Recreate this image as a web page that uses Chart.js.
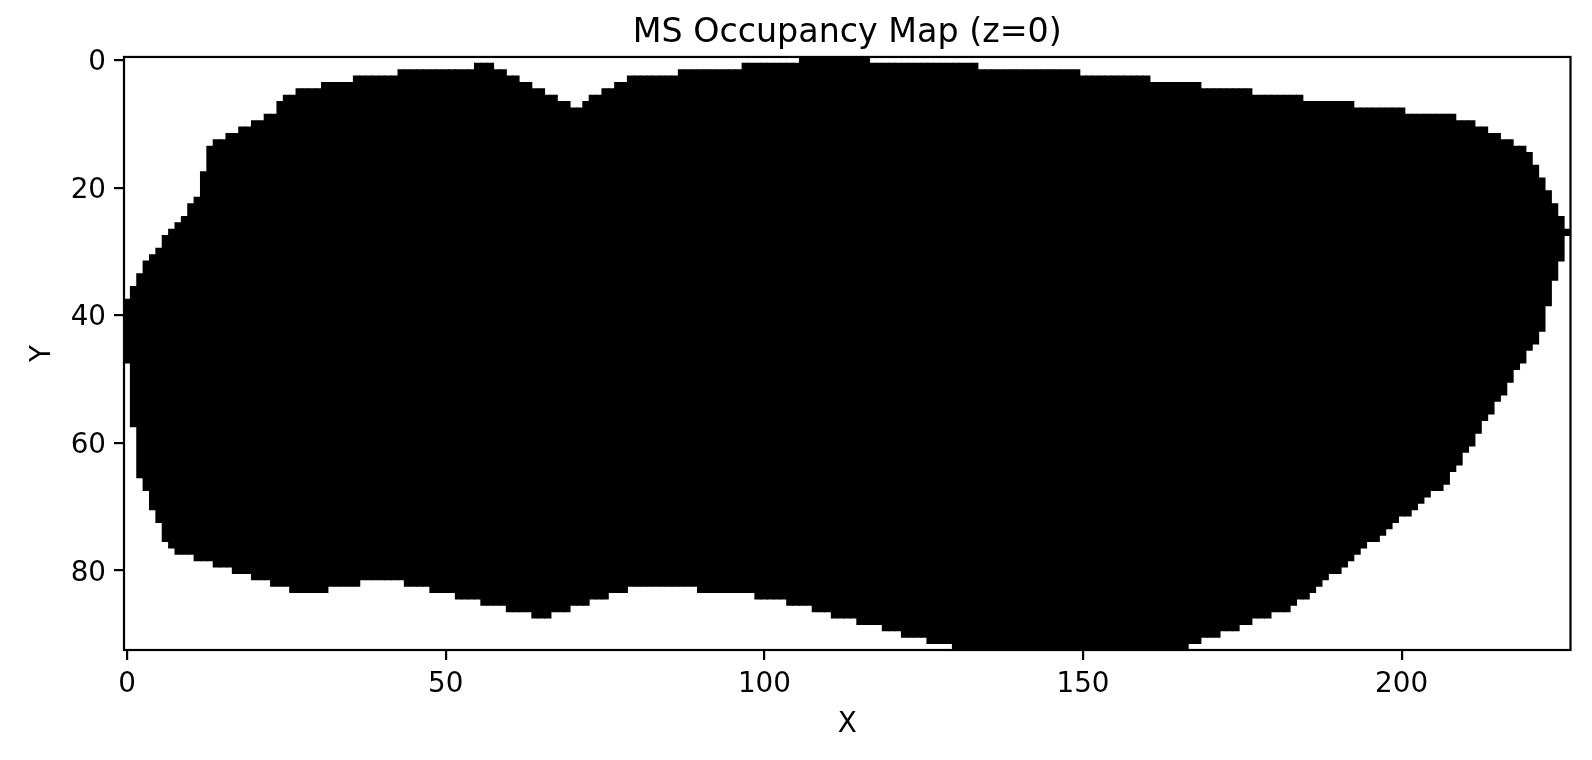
<!DOCTYPE html>
<html>
<head>
<meta charset="utf-8">
<title>MS Occupancy Map</title>
<script src="https://cdn.jsdelivr.net/npm/chart.js@4"></script>
<style>
  html, body { margin: 0; padding: 0; background: #fff; }
  canvas { display: block; }
</style>
</head>
<body>
<canvas id="occupancy" width="1592" height="760"></canvas>
<script>
// first occupied row of each column (x = array index)
const columnTops = [
  38,36,34,32,31,30,28,27,26,25,
  23,22,18,14,13,13,12,12,11,11,
  10,10,9,9,7,6,6,5,5,5,
  5,4,4,4,4,4,3,3,3,3,
  3,3,3,2,2,2,2,2,2,2,
  2,2,2,2,2,1,1,1,2,2,
  3,3,4,4,5,5,6,6,7,7,
  8,8,7,6,6,5,5,4,4,3,
  3,3,3,3,3,3,3,2,2,2,
  2,2,2,2,2,2,2,1,1,1,
  1,1,1,1,1,1,0,0,0,0,
  0,0,0,0,0,0,0,1,1,1,
  1,1,1,1,1,1,1,1,1,1,
  1,1,1,1,2,2,2,2,2,2,
  2,2,2,2,2,2,2,2,2,2,
  3,3,3,3,3,3,3,3,3,3,
  3,4,4,4,4,4,4,4,4,5,
  5,5,5,5,5,5,5,6,6,6,
  6,6,6,6,6,7,7,7,7,7,
  7,7,7,8,8,8,8,8,8,8,
  8,9,9,9,9,9,9,9,9,10,
  10,10,11,11,12,12,13,13,14,14,
  15,17,19,21,23,25,27
];

// last occupied row of each column
const columnBottoms = [
  47,57,65,67,70,72,75,76,77,77,
  77,78,78,78,79,79,79,80,80,80,
  81,81,81,82,82,82,83,83,83,83,
  83,83,82,82,82,82,82,81,81,81,
  81,81,81,81,82,82,82,82,83,83,
  83,83,84,84,84,84,85,85,85,85,
  86,86,86,86,87,87,87,86,86,86,
  85,85,85,84,84,84,83,83,83,82,
  82,82,82,82,82,82,82,82,82,82,
  83,83,83,83,83,83,83,83,83,84,
  84,84,84,84,85,85,85,85,86,86,
  86,87,87,87,87,88,88,88,88,89,
  89,89,90,90,90,90,91,91,91,91,
  92,92,92,92,92,92,92,92,92,92,
  92,92,92,92,92,92,92,92,92,92,
  92,92,92,92,92,92,92,92,92,92,
  92,92,92,92,92,92,92,91,91,90,
  90,90,89,89,89,88,88,87,87,87,
  86,86,86,85,84,84,83,82,81,80,
  80,79,78,77,76,75,75,74,73,72,
  71,71,70,69,68,67,67,66,64,63,
  61,60,58,56,55,53,52,50,48,47,
  45,44,42,38,34,31,27
];

const xTicks = [0, 50, 100, 150, 200];
const yTicks = [0, 20, 40, 60, 80];
const xExtent = [-0.5, 226.5];
const yExtent = [-0.5, 92.5];

const fontFamily = '"DejaVu Sans", sans-serif';

// each cell is one unit, so a column runs from top-0.5 to bottom+0.5
const cells = columnTops.map((top, i) => ({ x: i, y: [top - 0.5, columnBottoms[i] + 0.5] }));

// the four spines, drawn on top of the bars
const frame = {
  id: 'frame',
  afterDraw(chart) {
    const { ctx, chartArea: a } = chart;
    ctx.save();
    ctx.strokeStyle = '#000';
    ctx.lineWidth = 2.2;
    ctx.strokeRect(a.left, a.top, a.right - a.left, a.bottom - a.top);
    ctx.restore();
  }
};

function axisOptions(range, tickValues, label, size) {
  return {
    type: 'linear',
    min: range[0],
    max: range[1],
    offset: false,
    afterBuildTicks: scale => { scale.ticks = tickValues.map(v => ({ value: v })); },
    afterFit: size,
    grid: { offset: false, drawOnChartArea: false, drawTicks: true, tickLength: 10, color: '#000', lineWidth: 2.2 },
    border: { display: false },
    ticks: {
      autoSkip: false,
      maxRotation: 0,
      padding: 8,
      color: '#000',
      font: { family: fontFamily, size: 27.8 }
    },
    title: {
      display: true,
      text: label,
      color: '#000',
      font: { family: fontFamily, size: 27.8 },
      padding: { top: 26, bottom: 19 }
    }
  };
}

const yAxis = axisOptions(yExtent, yTicks, 'Y', scale => { scale.width = 124; });
yAxis.reverse = true;
yAxis.ticks.labelOffset = 3;

new Chart(document.getElementById('occupancy'), {
  type: 'bar',
  data: {
    datasets: [{
      data: cells,
      backgroundColor: '#000',
      borderWidth: 0,
      barPercentage: 1,
      categoryPercentage: 1,
      inflateAmount: 0.5
    }]
  },
  options: {
    responsive: false,
    animation: false,
    layout: { padding: { left: 0, right: 21.5, top: 0, bottom: 0 } },
    plugins: {
      legend: { display: false },
      tooltip: { enabled: false },
      title: {
        display: true,
        fullSize: false,
        text: 'MS Occupancy Map (z=0)',
        color: '#000',
        font: { family: fontFamily, size: 33.3, weight: 'normal', lineHeight: 1.2 },
        padding: { top: 13.5, bottom: 3.5 }
      }
    },
    scales: {
      x: axisOptions(xExtent, xTicks, 'X', scale => { scale.height = 110; }),
      y: yAxis
    }
  },
  plugins: [frame]
});
</script>
</body>
</html>
